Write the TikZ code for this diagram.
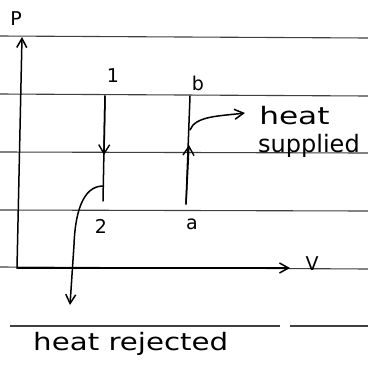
\documentclass[tikz,border=0pt]{standalone}
\usepackage{fontspec}
\setmainfont{DejaVu Sans}
\usetikzlibrary{arrows.meta}
\begin{document}
\begin{tikzpicture}[x=1pt,y=-1pt,
  rule/.style={draw=black!75,line width=1.1pt},
  ink/.style={draw=black,line width=1.5pt,line cap=round},
  tip/.style={-{Straight Barb[length=9pt,width=10pt,line width=1.5pt]}},
  midtip/.style={-{Straight Barb[length=9pt,width=11pt,line width=1.4pt]}},
  lbl/.style={font=\fontsize{19}{20}\selectfont,inner sep=0pt},
  big/.style={font=\fontsize{24}{26}\selectfont,inner sep=0pt,anchor=base west}]
\useasboundingbox (0,0) rectangle (368,365);
\fill[white] (0,0) rectangle (368,365);
% ruled paper lines
\draw[rule] (0,36) -- (368,38);
\draw[rule] (0,94) -- (368,96);
\draw[rule] (0,152) -- (368,153);
\draw[rule] (0,210) -- (368,211);
\draw[rule] (0,267) -- (368,269);
\draw[rule] (10,326) -- (280,326) (290,326) -- (368,326);
% axes
\coordinate (O) at (17,268);
\coordinate (Ptop) at (22,37);
\coordinate (Vend) at (290,268);
\draw[ink,tip] (O) -- (Ptop);
\draw[ink,tip] (O) -- (Vend);
\node[lbl] (P) at (16,19) {P};
\node[lbl] (V) at (312,264) {V};
% state points
\coordinate (s1) at (105,96);
\coordinate (s2) at (103,201);
\coordinate (sa) at (186,204);
\coordinate (sb) at (190,96);
\node[lbl] (n1) at (113,76) {1};
\node[lbl] (n2) at (101,226) {2};
\node[lbl] (na) at (192,224) {a};
\node[lbl] (nb) at (198,83) {b};
% process 1-2 (downward)
\draw[ink] (s1) -- (s2);
\draw[ink,midtip] (s1) -- (104,155);
% process a-b (upward)
\draw[ink] (sa) -- (sb);
\draw[ink,midtip] (sa) -- (189,145);
% heat supplied
\coordinate (hs) at (190,130);
\coordinate (hsend) at (245,113);
\draw[ink,tip] (hs) .. controls (195,116) and (220,116) .. (hsend);
\node[big,xscale=1.3] (heat) at (259,124) {heat};
\node[big] (sup) at (258,152) {supplied};
% heat rejected
\coordinate (hr) at (103,186);
\coordinate (hrend) at (70,305);
\draw[ink,tip] (hr) .. controls (82,186) and (75,215) .. (74,245) -- (hrend);
\node[big,xscale=1.22] (rej) at (33,350) {heat rejected};
\end{tikzpicture}
\end{document}
